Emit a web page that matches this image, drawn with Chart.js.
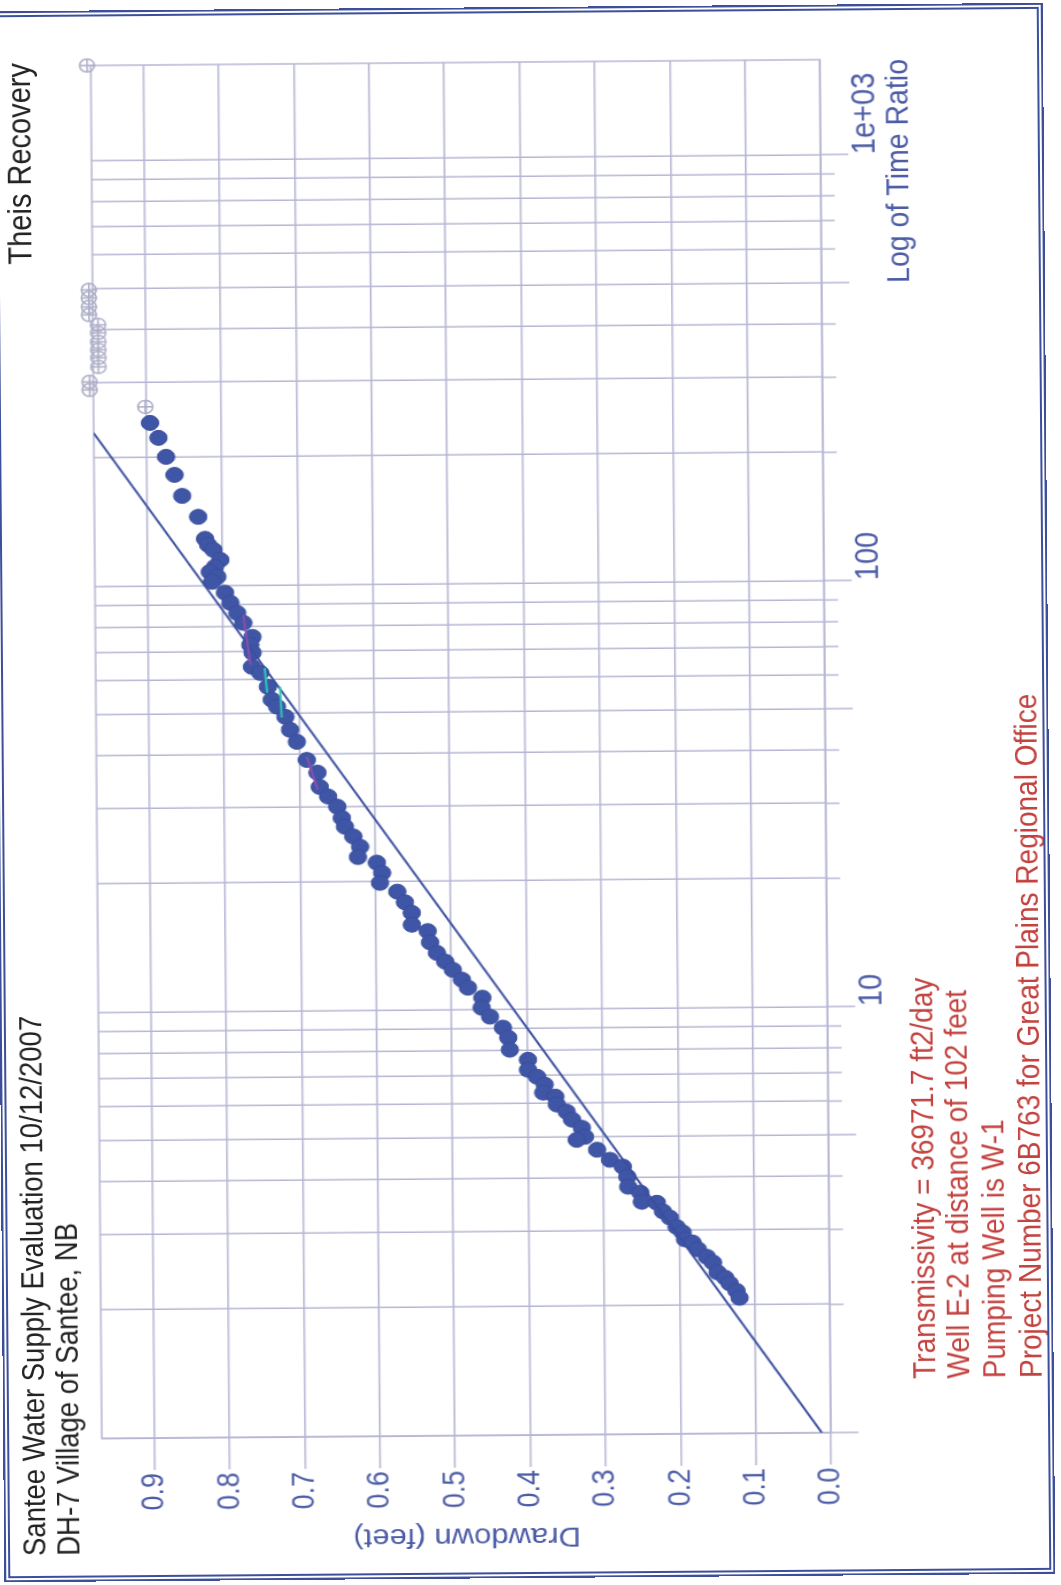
<!DOCTYPE html>
<html>
<head>
<meta charset="utf-8">
<script src="https://cdn.jsdelivr.net/npm/chart.js@4.4.1/dist/chart.umd.min.js"></script>
<style>
    html, body { margin: 0; padding: 0; background: #fff; overflow: hidden; }
    body { width: 1061px; height: 1585px; position: relative; font-family: "Liberation Sans", Arial, sans-serif; }
    /* the scanned page sits slightly skewed */
    #page {
        position: absolute; left: 0; top: 0; width: 1061px; height: 1585px;
        transform-origin: 530px 792px;
        transform: rotate(-0.46deg);
    }
    /* chart is laid out landscape, then turned onto the portrait page */
    #sheet {
        position: absolute; left: 0; top: 0;
        width: 1585px; height: 923px;
        transform-origin: 0 0;
        transform: translateY(1585px) rotate(-90deg) scaleY(1.15);
    }
    #sheet canvas { position: absolute; left: 0; top: 0; }
    .txt { position: absolute; font-size: 27.5px; line-height: 27px; white-space: nowrap; color: #222; }
    .red { color: #c2423f; font-size: 28px; line-height: 28px; }
    #frame {
        position: absolute; left: -2px; top: 7px; width: 1051px; height: 1571px;
        box-sizing: border-box;
        border: 6px double #3d4f9a;
    }
</style>
</head>
<body>
<div id="page">
<div id="sheet">
    <canvas id="chart" width="1585" height="923"></canvas>
    <div class="txt" style="left:33px; top:11px;">Santee Water Supply Evaluation 10/12/2007</div>
    <div class="txt" style="left:33px; top:41px;">DH-7 Village of Santee, NB</div>
    <div class="txt" style="right:59px; top:8px; font-size:29px;">Theis Recovery</div>
    <div class="txt red" style="left:203px; top:786px;">Transmissivity = 36971.7 ft2/day</div>
    <div class="txt red" style="left:203px; top:816px;">Well E-2 at distance of 102 feet</div>
    <div class="txt red" style="left:203px; top:847px;">Pumping Well is W-1</div>
    <div class="txt red" style="left:203px; top:879px;">Project Number 6B763 for Great Plains Regional Office</div>
</div>
<div id="frame"></div>
</div>

<script>
// ================= DATA =================
const timeRatio = [
    241.4, 222.6, 200.8, 182.1, 162.5, 145.0, 128.7, 124.6, 121.2, 114.8,
    110.6, 107.6, 104.8, 102.0, 96.1, 91.0, 86.1, 81.6, 75.6, 72.4,
    69.4, 64.3, 62.2, 57.7, 53.8, 51.8, 49.0, 45.7, 42.8, 38.8,
    36.2, 33.5, 31.8, 30.1, 28.3, 27.0, 25.6, 24.2, 22.9, 22.2,
    21.0, 19.9, 18.96, 17.9, 16.9, 15.85, 15.3, 14.4, 13.6, 12.96,
    12.4, 11.75, 11.25, 10.65, 10.09, 9.61, 9.05, 8.57, 8.03, 7.60,
    7.20, 6.93, 6.64, 6.36, 6.22, 5.96, 5.73, 5.49, 5.25, 5.00,
    4.92, 4.66, 4.41, 4.25, 4.02, 3.81, 3.69, 3.51, 3.49, 3.33,
    3.22, 3.06, 2.97, 2.86, 2.81, 2.71, 2.60, 2.52, 2.39, 2.32,
    2.25, 2.16, 2.08
];
const drawdown = [
    0.895, 0.884, 0.874, 0.863, 0.853, 0.832, 0.823, 0.819, 0.812, 0.803,
    0.810, 0.817, 0.807, 0.814, 0.797, 0.790, 0.781, 0.773, 0.761, 0.764,
    0.761, 0.762, 0.751, 0.741, 0.736, 0.729, 0.718, 0.712, 0.703, 0.690,
    0.676, 0.673, 0.662, 0.650, 0.644, 0.640, 0.629, 0.620, 0.623, 0.598,
    0.591, 0.594, 0.571, 0.561, 0.552, 0.552, 0.531, 0.528, 0.519, 0.508,
    0.498, 0.486, 0.478, 0.459, 0.460, 0.449, 0.432, 0.425, 0.423, 0.399,
    0.399, 0.387, 0.377, 0.379, 0.363, 0.361, 0.348, 0.341, 0.328, 0.324,
    0.335, 0.308, 0.291, 0.274, 0.268, 0.267, 0.251, 0.249, 0.229, 0.221,
    0.212, 0.203, 0.195, 0.192, 0.182, 0.175, 0.163, 0.155, 0.149, 0.139,
    0.133, 0.124, 0.120
];

// points left out of the fit (hollow markers)
const excludedTime = [1670, 496.6, 475.6, 453.0, 433.9, 410.9, 393.5, 374.9, 359.0, 343.9, 327.5, 302.1, 289.3, 263.3];
const excludedDrawdown = [0.975, 0.975, 0.975, 0.975, 0.975, 0.963, 0.963, 0.963, 0.963, 0.963, 0.963, 0.975, 0.975, 0.901];

// fitted straight line
const fitTime = [1, 229];
const fitDrawdown = [0.012, 0.97];

// short coloured traces over the dots
const purpleTime = [85.2, 65.0];
const purpleDrawdown = [0.773, 0.764];
const cyanTime = [63.9, 55.9];
const cyanDrawdown = [0.745, 0.742];
const cyan2Time = [57.7, 48.8];
const cyan2Drawdown = [0.725, 0.723];
const magentaTime = [39.5, 33.0];
const magentaDrawdown = [0.690, 0.676];

// axes
const drawdownTicks = [0, 0.1, 0.2, 0.3, 0.4, 0.5, 0.6, 0.7, 0.8, 0.9];
const timeTicks = [1, 2, 3, 4, 5, 6, 7, 8, 9, 10, 20, 30, 40, 50, 60, 70, 80, 90,
    100, 200, 300, 400, 500, 600, 700, 800, 900, 1000];
const longTimeTicks = [1, 5, 10, 50, 100, 500, 1000];
const labelledTimes = [10, 100, 1000];
const timeLabelText = ["10", "100", "1e+03"];

// ================= STYLE =================
const GRID = "#b6b6d4";
const AXIS_BLUE = "#4c5ca6";
const DOT = "#3f55a6";
const LINE = "#3b4f9f";
const HOLLOW = "#acacc6";

Chart.defaults.font.family = "'Liberation Sans', Arial, sans-serif";

const pts = (xs, ys) => xs.map((x, i) => ({ x, y: ys[i] }));

const segment = (xs, ys, color) => ({
    data: pts(xs, ys),
    showLine: true,
    borderColor: color,
    borderWidth: 2,
    pointRadius: 0
});

// ================= FRAME + TICK MARKS =================
const framePlugin = {
    id: "frame",
    beforeDatasetsDraw(chart) {
        const { ctx, chartArea: a, scales: { x } } = chart;
        ctx.save();
        ctx.strokeStyle = GRID;
        ctx.lineWidth = 1.5;
        ctx.strokeRect(a.left, a.top, a.right - a.left, a.bottom - a.top);
        timeTicks.forEach(v => {
            const px = x.getPixelForValue(v);
            const len = longTimeTicks.includes(v) ? 24 : 12;
            ctx.beginPath();
            ctx.moveTo(px, a.bottom);
            ctx.lineTo(px, a.bottom + len);
            ctx.stroke();
        });
        ctx.restore();
    }
};

// ================= CHART =================
new Chart(document.getElementById("chart"), {
    type: "scatter",
    data: {
        datasets: [
            segment(purpleTime, purpleDrawdown, "#8a4fb0"),
            segment(cyanTime, cyanDrawdown, "#2fc4b8"),
            segment(cyan2Time, cyan2Drawdown, "#2fc4b8"),
            segment(magentaTime, magentaDrawdown, "#8a4fb0"),
            {
                data: pts(fitTime, fitDrawdown),
                showLine: true,
                borderColor: LINE,
                borderWidth: 2,
                pointRadius: 0
            },
            {
                data: pts(excludedTime, excludedDrawdown),
                pointStyle: "cross",
                pointRadius: 6.5,
                borderColor: HOLLOW,
                borderWidth: 1.5,
                clip: false
            },
            {
                data: pts(excludedTime, excludedDrawdown),
                pointStyle: "circle",
                pointRadius: 6.5,
                backgroundColor: "rgba(255,255,255,0)",
                borderColor: HOLLOW,
                borderWidth: 1.5,
                clip: false
            },
            {
                data: pts(timeRatio, drawdown),
                pointStyle: "circle",
                pointRadius: 7.5,
                backgroundColor: DOT,
                borderColor: "#3a4f9c",
                borderWidth: 1
            }
        ]
    },
    options: {
        responsive: false,
        animation: false,
        events: [],
        layout: { padding: { left: 0, top: 84, right: 62, bottom: 0 } },
        plugins: { legend: { display: false }, tooltip: { enabled: false } },
        scales: {
            x: {
                type: "logarithmic",
                position: "bottom",
                min: 1,
                max: 1670,
                afterBuildTicks: s => { s.ticks = timeTicks.map(v => ({ value: v })); },
                afterFit: s => { s.height = 205; },
                grid: { color: GRID, lineWidth: 1.5, drawTicks: false },
                border: { display: false },
                ticks: {
                    autoSkip: false,
                    maxRotation: 0,
                    minRotation: 0,
                    align: "start",
                    padding: 22,
                    color: AXIS_BLUE,
                    font: { size: 29 },
                    callback: v => {
                        const i = labelledTimes.indexOf(Math.round(v));
                        return i >= 0 ? timeLabelText[i] : "";
                    }
                },
                title: {
                    display: true,
                    text: "Log of Time Ratio",
                    align: "end",
                    color: AXIS_BLUE,
                    font: { size: 28.5 },
                    padding: { top: 0, bottom: 120 }
                }
            },
            y: {
                type: "linear",
                min: 0,
                max: 0.97,
                afterBuildTicks: s => { s.ticks = drawdownTicks.map(v => ({ value: v })); },
                afterFit: s => { s.width = 150; },
                grid: { color: GRID, lineWidth: 1.5, tickLength: 32 },
                border: { display: false },
                ticks: {
                    padding: 3,
                    color: AXIS_BLUE,
                    font: { size: 27 },
                    callback: v => Number(v).toFixed(1)
                },
                title: {
                    display: true,
                    text: "Drawdown (feet)",
                    color: AXIS_BLUE,
                    font: { size: 27 },
                    padding: { top: 33, bottom: 0 }
                }
            }
        }
    },
    plugins: [framePlugin]
});
</script>
</body>
</html>
